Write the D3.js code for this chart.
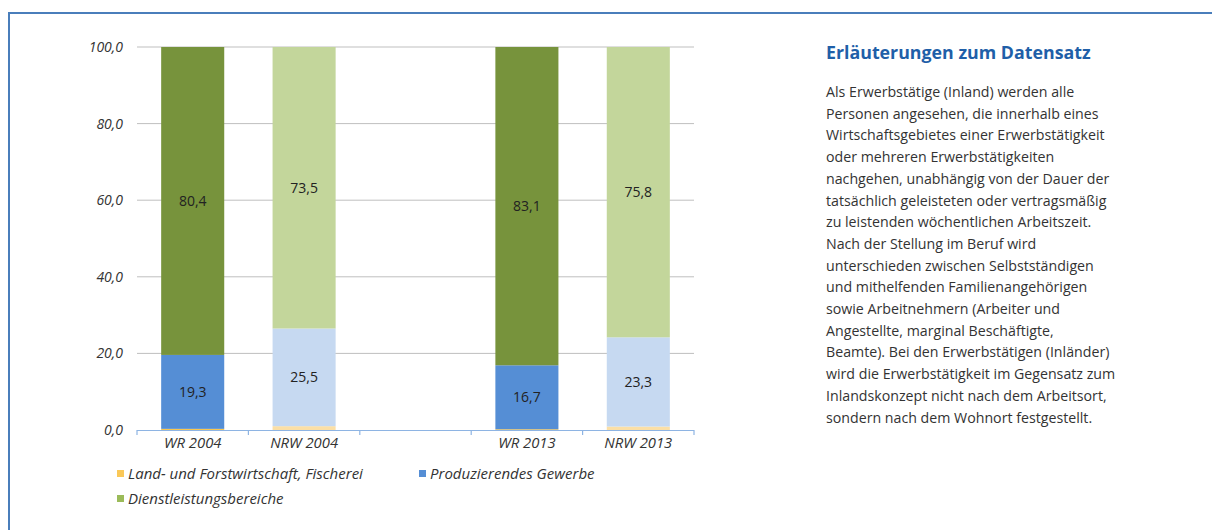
<!DOCTYPE html>
<html>
<head>
<meta charset="utf-8">
<script src="https://cdn.jsdelivr.net/npm/d3@7"></script>
<style>
  body { margin: 0; background: #fff; }
  svg { display: block; }
</style>
</head>
<body>
<div id="chart"></div>
<script>
// data
let categories = ["WR 2004", "NRW 2004", "", "WR 2013", "NRW 2013"];
let land = [0.3, 1.0, null, 0.2, 0.9];
let produzierend = [19.3, 25.5, null, 16.7, 23.3];
let dienst = [80.4, 73.5, null, 83.1, 75.8];
let yTicks = [0, 20, 40, 60, 80, 100];
let seriesNames = ["Land- und Forstwirtschaft, Fischerei", "Produzierendes Gewerbe", "Dienstleistungsbereiche"];

let explanation = [
    "Als Erwerbstätige (Inland) werden alle",
    "Personen angesehen, die innerhalb eines",
    "Wirtschaftsgebietes einer Erwerbstätigkeit",
    "oder mehreren Erwerbstätigkeiten",
    "nachgehen, unabhängig von der Dauer der",
    "tatsächlich geleisteten oder vertragsmäßig",
    "zu leistenden wöchentlichen Arbeitszeit.",
    "Nach der Stellung im Beruf wird",
    "unterschieden zwischen Selbstständigen",
    "und mithelfenden Familienangehörigen",
    "sowie Arbeitnehmern (Arbeiter und",
    "Angestellte, marginal Beschäftigte,",
    "Beamte). Bei den Erwerbstätigen (Inländer)",
    "wird die Erwerbstätigkeit im Gegensatz zum",
    "Inlandskonzept nicht nach dem Arbeitsort,",
    "sondern nach dem Wohnort festgestellt."
];

// colours: dark for WR, light for NRW
let colors = {
    WR: ["#f9c74f", "#558ed5", "#77933c"],
    NRW: ["#fbdfa6", "#c6d9f1", "#c3d69b"]
};
let legendColors = ["#fac858", "#558ed5", "#9bbb59"];

let width = 1212, height = 530;
let svg = d3.select("#chart").append("svg").attr("width", width).attr("height", height);

// blue frame
svg.append("path").attr("d", "M9,540 V13 H1220").attr("fill", "none")
    .attr("stroke", "#4a7ebb").attr("stroke-width", 2);

let font = "'Open Sans', sans-serif";

let xScale = d3.scaleBand().domain(categories).range([137, 694]).paddingInner(0.434).paddingOuter(0.217);
let yScale = d3.scaleLinear().domain([0, 100]).range([430, 47]);

let fmt = d => d3.format(".1f")(d).replace(".", ",");

// gridlines
svg.append("g").selectAll("line").data(yTicks.filter(d => d > 0)).enter().append("line")
    .attr("x1", 137).attr("x2", 694)
    .attr("y1", d => yScale(d)).attr("y2", d => yScale(d))
    .attr("stroke", "#bfbfbf").attr("stroke-width", 1);

// y axis labels
let yAxis = d3.axisLeft(yScale).tickValues(yTicks).tickFormat(fmt).tickSize(0).tickPadding(14);
let yG = svg.append("g").attr("transform", "translate(137,0)").call(yAxis);
yG.select(".domain").remove();
yG.selectAll("text").attr("font-family", font).attr("font-style", "italic")
    .attr("font-size", "14px").attr("fill", "#333");

// stacked bars
let stacked = categories.map((c, i) => {
    if (c === "") return [];
    let vals = [land[i], produzierend[i], dienst[i]];
    let pal = c.startsWith("WR") ? colors.WR : colors.NRW;
    let y0 = 0;
    return vals.map((v, k) => {
        let seg = {cat: c, k: k, v: v, y0: y0, y1: y0 + v, color: pal[k]};
        y0 += v;
        return seg;
    });
}).flat();

svg.append("g").selectAll("rect").data(stacked).enter().append("rect")
    .attr("x", d => xScale(d.cat))
    .attr("width", xScale.bandwidth())
    .attr("y", d => yScale(d.y1))
    .attr("height", d => yScale(d.y0) - yScale(d.y1))
    .attr("fill", d => d.color);

// value labels for the two bigger segments
svg.append("g").selectAll("text").data(stacked.filter(d => d.k > 0)).enter().append("text")
    .attr("x", d => xScale(d.cat) + xScale.bandwidth() / 2)
    .attr("y", d => (yScale(d.y0) + yScale(d.y1)) / 2)
    .attr("dy", "0.35em")
    .attr("text-anchor", "middle")
    .attr("font-family", font).attr("font-size", "14px").attr("fill", "#222")
    .text(d => fmt(d.v));

// x axis
let step = xScale.step();
svg.append("line").attr("x1", 137).attr("x2", 694).attr("y1", 430.5).attr("y2", 430.5)
    .attr("stroke", "#8eb4e3").attr("stroke-width", 1.2);
svg.append("g").selectAll("line").data(d3.range(categories.length + 1)).enter().append("line")
    .attr("x1", i => 137 + i * step).attr("x2", i => 137 + i * step)
    .attr("y1", 430).attr("y2", 435)
    .attr("stroke", "#8eb4e3").attr("stroke-width", 1.2);

let xAxis = d3.axisBottom(xScale).tickSize(0).tickPadding(7);
let xG = svg.append("g").attr("transform", "translate(0,430)").call(xAxis);
xG.select(".domain").remove();
xG.selectAll("text").attr("font-family", font).attr("font-style", "italic")
    .attr("font-size", "14.8px").attr("fill", "#333");

// legend
let legendPos = [[117, 474], [419, 474], [117, 499]];
let legend = svg.append("g").selectAll("g").data(seriesNames).enter().append("g")
    .attr("transform", (d, i) => `translate(${legendPos[i][0]}, ${legendPos[i][1]})`);
legend.append("rect").attr("x", 0).attr("y", -4).attr("width", 7).attr("height", 7)
    .attr("fill", (d, i) => legendColors[i]);
legend.append("text").attr("x", 11).attr("y", 0).attr("dy", "0.35em")
    .attr("font-family", font).attr("font-style", "italic").attr("font-size", "15px")
    .attr("fill", "#333").text(d => d);

// explanation panel
svg.append("text").attr("x", 826).attr("y", 59)
    .attr("font-family", font).attr("font-weight", "bold").attr("font-size", "17.8px")
    .attr("fill", "#1f5fa8").text("Erläuterungen zum Datensatz");

svg.append("g").selectAll("text").data(explanation).enter().append("text")
    .attr("x", 826).attr("y", (d, i) => 97 + i * 21.7)
    .attr("font-family", font).attr("font-size", "14.2px").attr("fill", "#333")
    .text(d => d);
</script>
</body>
</html>
